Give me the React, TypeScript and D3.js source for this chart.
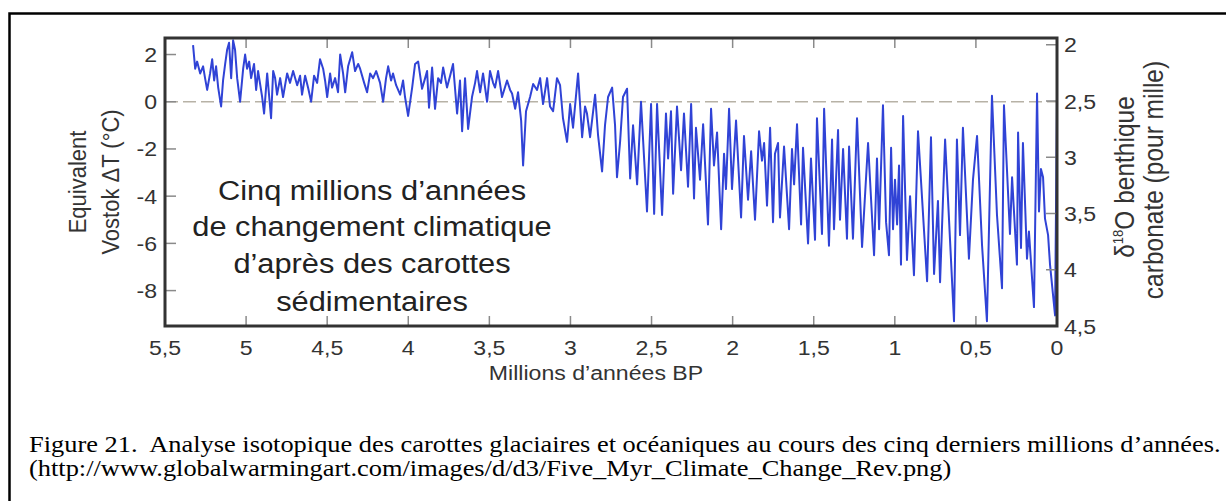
import React from 'react';
import * as d3 from 'd3';

// Record: [age in Myr BP, equivalent Vostok ΔT in °C]
const earlyPliocene: [number, number][] = [
  [5.327,2.4],[5.314,1.4],[5.302,1.7],[5.283,1.2],[5.265,1.5],[5.253,1.0],[5.240,0.5],[5.222,1.2],
  [5.209,1.8],[5.197,0.9],[5.185,1.5],[5.172,0.6],[5.154,-0.2],[5.142,0.9],[5.129,1.6],[5.117,2.2],
  [5.105,2.5],[5.092,1.0],[5.080,2.6],[5.068,2.2],[5.055,1.0],[5.037,0.0],[5.018,1.4],[5.006,2.0],
  [4.994,1.4],[4.981,1.7],[4.969,1.0],[4.951,1.6],[4.938,0.5],[4.926,1.3],[4.901,0.2],[4.889,-0.5],
  [4.870,1.2],[4.846,-0.7],[4.833,1.3],[4.821,1.0],[4.809,0.3],[4.790,1.0],[4.772,0.2],[4.747,1.2],
  [4.729,0.8],[4.710,1.3],[4.685,0.7],[4.667,1.1],[4.655,0.3],[4.636,1.1],[4.618,0.6],[4.599,0.0],
  [4.581,1.1],[4.562,0.8],[4.544,1.8],[4.525,1.4],[4.513,0.9],[4.500,0.2],[4.482,1.2],[4.470,0.6],
  [4.451,1.0],[4.433,0.4],[4.420,2.0],[4.402,1.2],[4.389,0.4],[4.371,1.5],[4.346,2.1],[4.328,1.3],
  [4.309,1.6],[4.297,1.4],[4.272,0.8],[4.254,0.4],[4.235,1.2],[4.217,1.0],[4.198,1.3],[4.174,0.8],
  [4.155,0.0],[4.137,1.0],[4.124,1.5],[4.106,0.9],[4.094,1.2],[4.075,0.7],[4.050,0.3],[4.032,0.9],
  [4.020,0.2],[4.001,-0.6],
];

const latePliocene: [number, number][] = [
  [3.976,0.6],[3.958,1.6],[3.939,1.7],[3.915,0.55],[3.896,1.0],[3.884,1.3],[3.872,-0.25],[3.853,1.45],
  [3.835,-0.3],[3.816,1.0],[3.798,0.8],[3.785,1.45],[3.761,0.6],[3.742,1.1],[3.724,1.6],[3.699,-0.5],
  [3.681,0.9],[3.668,-1.25],[3.650,1.0],[3.631,-1.15],[3.607,0.2],[3.588,0.8],[3.576,1.3],[3.557,0.4],
  [3.539,1.2],[3.514,0.0],[3.496,1.3],[3.477,0.8],[3.465,0.6],[3.446,1.3],[3.422,0.2],[3.391,0.9],
  [3.372,0.5],[3.360,0.35],[3.341,-0.3],[3.323,0.4],[3.304,-0.8],[3.292,-2.7],[3.274,-0.4],[3.249,0.2],
  [3.230,0.75],[3.206,0.5],[3.187,1.0],[3.169,-0.1],[3.144,1.0],[3.126,-0.2],[3.107,-0.4],[3.083,1.0],
  [3.064,0.7],[3.046,-0.7],[3.021,-1.7],[3.002,-0.1],[2.984,-1.1],[2.953,1.2],[2.928,-1.5],[2.910,-0.2],
  [2.898,-0.5],[2.879,-1.5],[2.848,0.3],[2.830,-1.4],[2.805,-2.95],[2.787,-1.0],[2.768,0.2],[2.743,0.6],
  [2.725,-1.0],[2.713,-3.2],[2.694,-1.7],[2.676,0.2],[2.651,0.55],[2.632,-3.25],[2.614,-1.0],[2.589,-3.5],
  [2.565,0.0],
];

const earlyPleistocene: [number, number][] = [
  [2.528,-4.65],[2.503,-0.1],[2.484,-4.75],[2.466,-0.1],[2.435,-4.8],[2.411,-0.5],[2.398,-2.4],[2.380,-0.4],
  [2.367,-3.9],[2.343,-0.2],[2.318,-2.9],[2.300,-0.5],[2.275,-3.6],[2.256,-0.1],[2.238,-4.1],[2.226,-1.1],
  [2.201,-3.3],[2.182,-0.95],[2.152,-5.2],[2.133,-0.3],[2.115,-2.7],[2.096,-1.3],[2.071,-5.4],[2.053,-2.2],
  [2.041,-3.7],[2.022,-0.3],[2.004,-3.7],[1.979,-0.8],[1.948,-4.9],[1.930,-1.45],[1.905,-4.15],[1.886,-2.1],
  [1.862,-5.0],[1.837,-1.25],[1.819,-2.5],[1.806,-1.75],[1.788,-4.4],[1.769,-1.1],[1.751,-5.1],[1.739,-2.2],
  [1.720,-1.75],[1.708,-4.9],[1.683,-1.9],[1.652,-5.4],[1.634,-2.0],[1.621,-3.5],[1.603,-0.95],[1.578,-5.2],
  [1.566,-1.95],[1.535,-6.0],[1.517,-2.4],[1.492,-5.85],[1.480,-0.7],[1.449,-5.6],[1.436,-0.3],[1.406,-6.1],
  [1.387,-1.6],[1.375,-5.4],[1.350,-1.2],[1.338,-5.0],[1.319,-2.0],[1.295,-5.8],[1.282,-1.9],[1.258,-5.8],
  [1.233,-0.7],
];

const latePleistocene: [number, number][] = [
  [1.202,-6.15],[1.165,-1.75],[1.128,-6.5],[1.110,-2.4],[1.097,-5.4],[1.073,-0.15],[1.054,-5.1],[1.036,-6.5],
  [1.023,-1.95],[1.011,-5.4],[0.999,-3.3],[0.986,-5.2],[0.974,-2.7],[0.962,-6.9],[0.949,-0.6],[0.925,-6.7],
  [0.906,-4.0],[0.882,-7.35],[0.857,-1.25],[0.801,-7.6],[0.777,-1.5],[0.758,-7.3],[0.734,-4.2],[0.721,-7.65],
  [0.690,-1.6],[0.635,-9.3],[0.617,-1.6],[0.598,-5.65],[0.580,-1.1],[0.543,-6.65],[0.518,-3.3],[0.493,-1.45],
  [0.462,-6.1],[0.432,-9.3],[0.401,0.25],[0.370,-4.8],[0.339,-7.9],[0.327,-0.15],[0.290,-5.6],[0.277,-3.2],
  [0.247,-6.9],[0.240,-1.3],[0.222,-6.2],[0.210,-1.75],[0.185,-6.65],[0.173,-5.5],[0.142,-8.7],[0.123,0.35],
  [0.111,-4.65],[0.099,-2.85],[0.086,-3.2],[0.074,-4.95],[0.055,-5.65],[0.043,-6.9],[0.012,-9.05],[0.000,0.15],
];

const ageTicks = [5.5, 5, 4.5, 4, 3.5, 3, 2.5, 2, 1.5, 1, 0.5, 0];
const tempTicks = [2, 0, -2, -4, -6, -8];
const isoTicks = [2, 2.5, 3, 3.5, 4, 4.5];
const annotation = ['Cinq millions d’années', 'de changement climatique', 'd’après des carottes', 'sédimentaires'];
const caption = [
  'Figure 21.  Analyse isotopique des carottes glaciaires et océaniques au cours des cinq derniers millions d’années.',
  '(http://www.globalwarmingart.com/images/d/d3/Five_Myr_Climate_Change_Rev.png)',
];

const SX = 1.1;
const SANS = '"Liberation Sans", Arial, sans-serif';
const SERIF = '"Liberation Serif", "Times New Roman", serif';
const fmt = (v: number) => String(v).replace('.', ',');

function T(props: { x: number; y: number; size: number; anchor?: string; rot?: boolean; font?: string; fill?: string; children: any }) {
  const { x, y, size, anchor = 'start', rot, font = SANS, fill = '#333', children } = props;
  return (
    <text
      transform={`translate(${x},${y}) scale(${SX},1)${rot ? ' rotate(-90)' : ''}`}
      textAnchor={anchor}
      fontFamily={font}
      fontSize={size}
      fill={fill}
      style={{ whiteSpace: 'pre' }}
    >
      {children}
    </text>
  );
}

export default function App() {
  const L = 165, R = 1057, TOP = 38, B = 326;
  const x = d3.scaleLinear().domain([5.5, 0]).range([L, R]);
  const yT = d3.scaleLinear().domain([-9.5, 2.7]).range([B, TOP]);
  const yO = d3.scaleLinear().domain([4.5, 1.94]).range([B, TOP]);
  const record = [...earlyPliocene, ...latePliocene, ...earlyPleistocene, ...latePleistocene];
  const path = d3.line<[number, number]>().x(d => x(d[0])).y(d => yT(d[1]))(record) || '';
  const tickColor = '#8a8a8a';

  return (
    <svg width={1226} height={501} style={{ position: 'absolute', left: 0, top: 0, background: '#fff' }}>
      <rect x={9.5} y={13.5} width={1400} height={700} fill="none" stroke="#000" strokeWidth={2.5} />
      <defs>
        <clipPath id="plot">
          <rect x={L} y={TOP} width={R - L} height={B - TOP} />
        </clipPath>
      </defs>

      <line x1={L} x2={R} y1={yT(0)} y2={yT(0)} stroke="#b7b2a6" strokeWidth={1.6} strokeDasharray="13 5" />
      <path d={path} fill="none" stroke="#3043d6" strokeWidth={2} strokeLinejoin="round" clipPath="url(#plot)" />

      {ageTicks.slice(1, -1).map(a => (
        <g key={'xt' + a}>
          <line x1={x(a)} x2={x(a)} y1={TOP} y2={TOP + 10} stroke={tickColor} strokeWidth={1.5} />
          <line x1={x(a)} x2={x(a)} y1={B} y2={B - 10} stroke={tickColor} strokeWidth={1.5} />
        </g>
      ))}
      {tempTicks.map(t => (
        <line key={'lt' + t} x1={L} x2={L + 11} y1={yT(t)} y2={yT(t)} stroke={tickColor} strokeWidth={1.5} />
      ))}
      {isoTicks.map(t => (
        <line key={'rt' + t} x1={R} x2={R - 11} y1={yO(t)} y2={yO(t)} stroke={tickColor} strokeWidth={1.5} />
      ))}

      <rect x={L} y={TOP} width={R - L} height={B - TOP} fill="none" stroke="#333" strokeWidth={3} />

      {ageTicks.map(a => (
        <T key={'xl' + a} x={x(a)} y={355} size={21} anchor="middle">{fmt(a)}</T>
      ))}
      {tempTicks.map(t => (
        <T key={'ll' + t} x={157} y={yT(t) + 7.5} size={21} anchor="end">{fmt(t)}</T>
      ))}
      {isoTicks.map(t => (
        <T key={'rl' + t} x={1064} y={yO(t) + 7.5} size={21}>{fmt(t)}</T>
      ))}

      <T x={596} y={380} size={21} anchor="middle">Millions d’années BP</T>

      <T x={86} y={(TOP + B) / 2} size={22} anchor="middle" rot>Equivalent</T>
      <T x={119} y={(TOP + B) / 2} size={22} anchor="middle" rot>Vostok ΔT (°C)</T>

      <T x={1134} y={177} size={24.5} anchor="middle" rot>
        δ<tspan fontSize={13} dy={-10}>18</tspan><tspan dy={10}>O benthique</tspan>
      </T>
      <T x={1163} y={180} size={24.5} anchor="middle" rot>carbonate (pour mille)</T>

      {annotation.map((s, i) => (
        <T key={'an' + i} x={372} y={[200, 236, 273, 311][i]} size={28} anchor="middle" fill="#222">{s}</T>
      ))}

      {caption.map((s, i) => (
        <T key={'cap' + i} x={29} y={452 + i * 24} size={24} font={SERIF} fill="#000">{s}</T>
      ))}
    </svg>
  );
}
